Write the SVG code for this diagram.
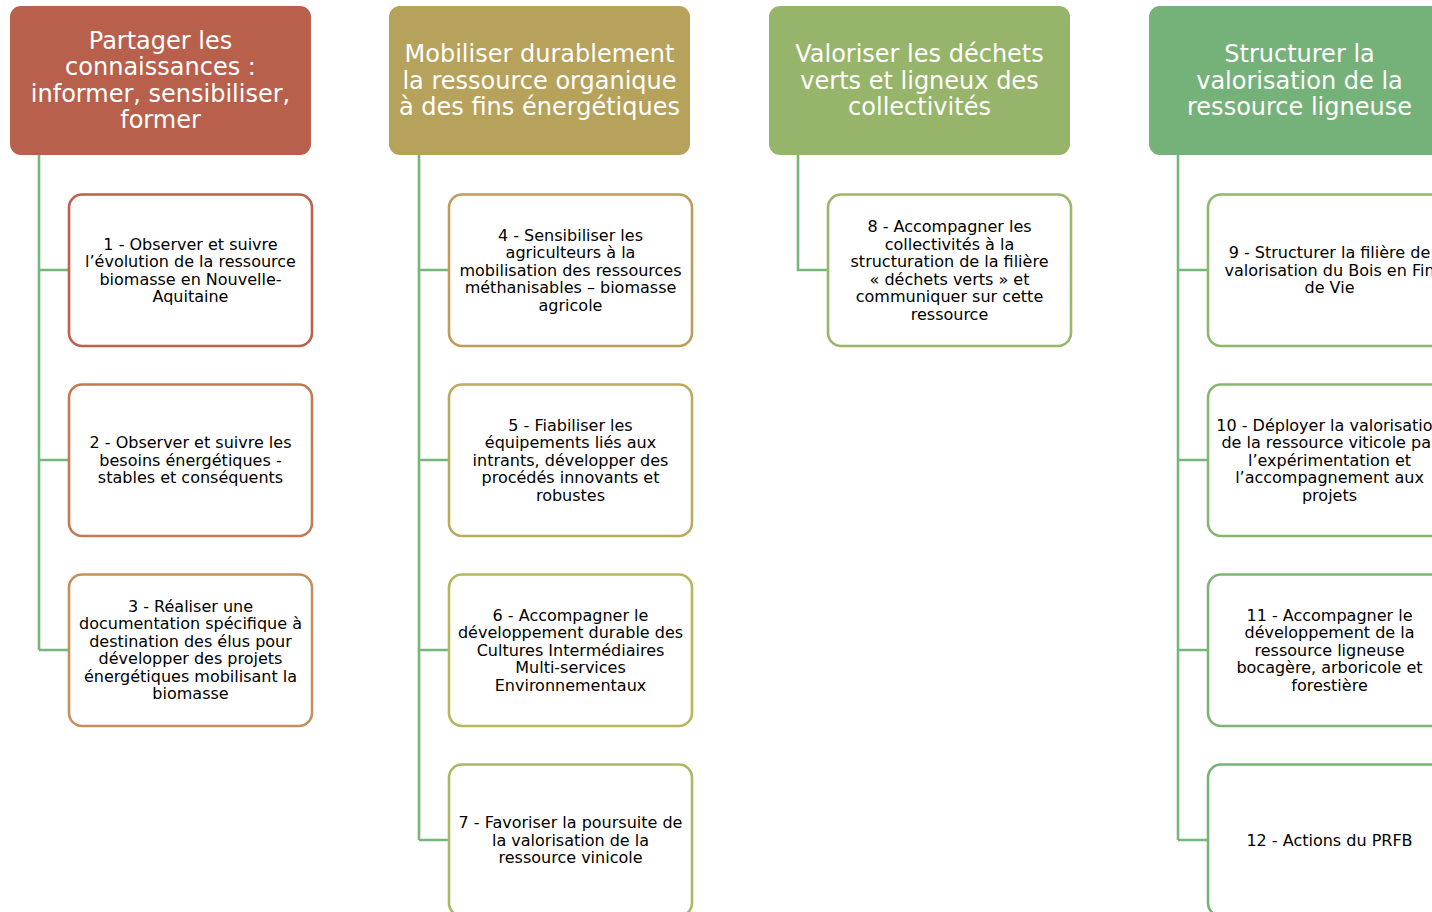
<svg xmlns="http://www.w3.org/2000/svg" width="1432" height="912" viewBox="0 0 1432 912">
<style>
.h{stroke:none}
.ht{font-family:"DejaVu Sans",Verdana,sans-serif;font-size:24px;fill:#ffffff;text-anchor:middle}
.c{fill:#ffffff;stroke-width:2.6}
.ct{font-family:"DejaVu Sans",Verdana,sans-serif;font-size:16px;fill:#000000;text-anchor:middle}
.ln{fill:none;stroke:#76b67a;stroke-width:2.6}
</style>
<rect width="1432" height="912" fill="#ffffff"/>
<g id="connectors">
<path class="ln" d="M39 155V650M39 270H69M39 460H69M39 650H69"/>
<path class="ln" d="M419 155V840M419 270H449M419 460H449M419 650H449M419 840H449"/>
<path class="ln" d="M798 155V270H828"/>
<path class="ln" d="M1178 155V840M1178 270H1208M1178 460H1208M1178 650H1208M1178 840H1208"/>
</g>
<g id="h1"><rect class="h" x="10" y="6" width="301" height="149" rx="11" fill="#b9604d"/>
<text class="ht"><tspan x="160.5" y="48.5">Partager les</tspan><tspan x="160.5" y="75">connaissances :</tspan><tspan x="160.5" y="101.5">informer, sensibiliser,</tspan><tspan x="160.5" y="128">former</tspan></text></g>
<g id="h2"><rect class="h" x="389" y="6" width="301" height="149" rx="11" fill="#b7a25b"/>
<text class="ht"><tspan x="539.5" y="62">Mobiliser durablement</tspan><tspan x="539.5" y="88.5">la ressource organique</tspan><tspan x="539.5" y="115">à des fins énergétiques</tspan></text></g>
<g id="h3"><rect class="h" x="769" y="6" width="301" height="149" rx="11" fill="#97b56a"/>
<text class="ht"><tspan x="919.5" y="62">Valoriser les déchets</tspan><tspan x="919.5" y="88.5">verts et ligneux des</tspan><tspan x="919.5" y="115">collectivités</tspan></text></g>
<g id="h4"><rect class="h" x="1149" y="6" width="301" height="149" rx="11" fill="#75b279"/>
<text class="ht"><tspan x="1299.5" y="62">Structurer la</tspan><tspan x="1299.5" y="88.5">valorisation de la</tspan><tspan x="1299.5" y="115">ressource ligneuse</tspan></text></g>

<g id="n1"><rect class="c" x="69" y="194.5" width="243" height="151.5" rx="13" stroke="#bf5f4c"/>
<text class="ct"><tspan x="190.5" y="249.5">1 - Observer et suivre</tspan><tspan x="190.5" y="267">l’évolution de la ressource</tspan><tspan x="190.5" y="284.5">biomasse en Nouvelle-</tspan><tspan x="190.5" y="302">Aquitaine</tspan></text></g>
<g id="n2"><rect class="c" x="69" y="384.5" width="243" height="151.5" rx="13" stroke="#c27a57"/>
<text class="ct"><tspan x="190.5" y="448.3">2 - Observer et suivre les</tspan><tspan x="190.5" y="465.8">besoins énergétiques -</tspan><tspan x="190.5" y="483.3">stables et conséquents</tspan></text></g>
<g id="n3"><rect class="c" x="69" y="574.5" width="243" height="151.5" rx="13" stroke="#c4905c"/>
<text class="ct"><tspan x="190.5" y="611.8">3 - Réaliser une</tspan><tspan x="190.5" y="629.3">documentation spécifique à</tspan><tspan x="190.5" y="646.8">destination des élus pour</tspan><tspan x="190.5" y="664.3">développer des projets</tspan><tspan x="190.5" y="681.8">énergétiques mobilisant la</tspan><tspan x="190.5" y="699.3">biomasse</tspan></text></g>

<g id="n4"><rect class="c" x="449" y="194.5" width="243" height="151.5" rx="13" stroke="#bf9c5a"/>
<text class="ct"><tspan x="570.5" y="240.8">4 - Sensibiliser les</tspan><tspan x="570.5" y="258.3">agriculteurs à la</tspan><tspan x="570.5" y="275.8">mobilisation des ressources</tspan><tspan x="570.5" y="293.3">méthanisables – biomasse</tspan><tspan x="570.5" y="310.8">agricole</tspan></text></g>
<g id="n5"><rect class="c" x="449" y="384.5" width="243" height="151.5" rx="13" stroke="#bcaa5e"/>
<text class="ct"><tspan x="570.5" y="430.8">5 - Fiabiliser les</tspan><tspan x="570.5" y="448.3">équipements liés aux</tspan><tspan x="570.5" y="465.8">intrants, développer des</tspan><tspan x="570.5" y="483.3">procédés innovants et</tspan><tspan x="570.5" y="500.8">robustes</tspan></text></g>
<g id="n6"><rect class="c" x="449" y="574.5" width="243" height="151.5" rx="13" stroke="#b6b65e"/>
<text class="ct"><tspan x="570.5" y="620.8">6 - Accompagner le</tspan><tspan x="570.5" y="638.3">développement durable des</tspan><tspan x="570.5" y="655.8">Cultures Intermédiaires</tspan><tspan x="570.5" y="673.3">Multi-services</tspan><tspan x="570.5" y="690.8">Environnementaux</tspan></text></g>
<g id="n7"><rect class="c" x="449" y="764.5" width="243" height="151.5" rx="13" stroke="#a8b864"/>
<text class="ct"><tspan x="570.5" y="828.3">7 - Favoriser la poursuite de</tspan><tspan x="570.5" y="845.8">la valorisation de la</tspan><tspan x="570.5" y="863.3">ressource vinicole</tspan></text></g>

<g id="n8"><rect class="c" x="828" y="194.5" width="243" height="151.5" rx="13" stroke="#9ab66a"/>
<text class="ct"><tspan x="949.5" y="232">8 - Accompagner les</tspan><tspan x="949.5" y="249.5">collectivités à la</tspan><tspan x="949.5" y="267">structuration de la filière</tspan><tspan x="949.5" y="284.5">« déchets verts » et</tspan><tspan x="949.5" y="302">communiquer sur cette</tspan><tspan x="949.5" y="319.5">ressource</tspan></text></g>

<g id="n9"><rect class="c" x="1208" y="194.5" width="243" height="151.5" rx="13" stroke="#8fb86e"/>
<text class="ct"><tspan x="1329.5" y="258">9 - Structurer la filière de</tspan><tspan x="1329.5" y="275.5">valorisation du Bois en Fin</tspan><tspan x="1329.5" y="293">de Vie</tspan></text></g>
<g id="n10"><rect class="c" x="1208" y="384.5" width="243" height="151.5" rx="13" stroke="#86b670"/>
<text class="ct"><tspan x="1329.5" y="430.8">10 - Déployer la valorisation</tspan><tspan x="1329.5" y="448.3">de la ressource viticole par</tspan><tspan x="1329.5" y="465.8">l’expérimentation et</tspan><tspan x="1329.5" y="483.3">l’accompagnement aux</tspan><tspan x="1329.5" y="500.8">projets</tspan></text></g>
<g id="n11"><rect class="c" x="1208" y="574.5" width="243" height="151.5" rx="13" stroke="#7db574"/>
<text class="ct"><tspan x="1329.5" y="620.8">11 - Accompagner le</tspan><tspan x="1329.5" y="638.3">développement de la</tspan><tspan x="1329.5" y="655.8">ressource ligneuse</tspan><tspan x="1329.5" y="673.3">bocagère, arboricole et</tspan><tspan x="1329.5" y="690.8">forestière</tspan></text></g>
<g id="n12"><rect class="c" x="1208" y="764.5" width="243" height="151.5" rx="13" stroke="#76b478"/>
<text class="ct"><tspan x="1329.5" y="845.8">12 - Actions du PRFB</tspan></text></g>
</svg>
